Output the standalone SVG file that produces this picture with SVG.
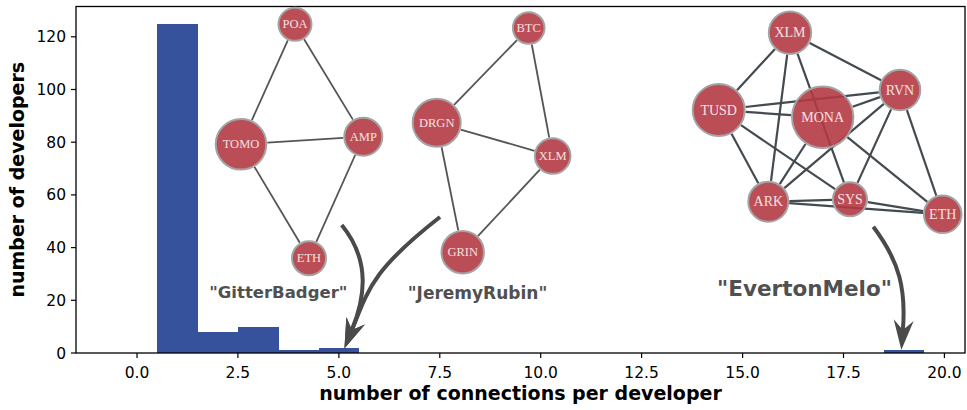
<svg xmlns="http://www.w3.org/2000/svg" width="967" height="410" viewBox="0 0 967 410">
<defs>
<style>
.tk{font-family:"DejaVu Sans",sans-serif;font-size:15.5px;fill:#000}
.ax{font-family:"DejaVu Sans",sans-serif;font-size:19px;font-weight:bold;fill:#000;text-anchor:middle}
.bar{fill:#37529c;shape-rendering:crispEdges}
.tm{stroke:#000;stroke-width:1.2}
.nd circle{fill:#b33a43;fill-opacity:0.9;stroke:#a4a4a4;stroke-width:2}
.nd text{font-family:"Liberation Serif",serif;fill:#f6e0e0;text-anchor:middle;dominant-baseline:central}
.s12 text{font-size:12.5px}
.s14 text{font-size:14px}
.e1 line{stroke:#555;stroke-width:1.8}
.e3 line{stroke:#434a50;stroke-width:2.2}
.nm{font-family:"DejaVu Sans",sans-serif;font-weight:bold;fill:#505050;text-anchor:middle}
.arr{fill:none;stroke:#4a4a4a;stroke-width:4}
</style>
<marker id="ah" markerUnits="userSpaceOnUse" markerWidth="40" markerHeight="30" viewBox="0 -15 40 30" refX="10" refY="0" orient="auto" overflow="visible">
<path d="M0,-10 L30,0 L0,10 L10,0 Z" fill="#4a4a4a"/>
</marker>
</defs>
<rect width="967" height="410" fill="#fff"/>
<g id="histogram">
<rect class="bar" x="157.2" y="23.6" width="40.9" height="329.4"/>
<rect class="bar" x="197.6" y="331.9" width="40.8" height="21.1"/>
<rect class="bar" x="237.9" y="326.6" width="40.9" height="26.4"/>
<rect class="bar" x="278.3" y="350.4" width="40.9" height="2.6"/>
<rect class="bar" x="318.7" y="347.7" width="40.3" height="5.3"/>
<rect class="bar" x="883.8" y="350.4" width="40.4" height="2.6"/>
</g>
<g id="axes">
<rect x="76" y="6.5" width="889" height="346.5" fill="none" stroke="#000" stroke-width="1.3"/>
<g class="tm">
<line x1="71" y1="353" x2="76" y2="353"/><line x1="71" y1="300.3" x2="76" y2="300.3"/><line x1="71" y1="247.6" x2="76" y2="247.6"/><line x1="71" y1="194.9" x2="76" y2="194.9"/><line x1="71" y1="142.2" x2="76" y2="142.2"/><line x1="71" y1="89.5" x2="76" y2="89.5"/><line x1="71" y1="36.8" x2="76" y2="36.8"/>
<line x1="137" y1="353" x2="137" y2="358"/><line x1="237.9" y1="353" x2="237.9" y2="358"/><line x1="338.9" y1="353" x2="338.9" y2="358"/><line x1="439.8" y1="353" x2="439.8" y2="358"/><line x1="540.7" y1="353" x2="540.7" y2="358"/><line x1="641.6" y1="353" x2="641.6" y2="358"/><line x1="742.6" y1="353" x2="742.6" y2="358"/><line x1="843.5" y1="353" x2="843.5" y2="358"/><line x1="944.4" y1="353" x2="944.4" y2="358"/>
</g>
<g class="tk" text-anchor="end">
<text x="66" y="358.5">0</text><text x="66" y="305.8">20</text><text x="66" y="253.1">40</text><text x="66" y="200.4">60</text><text x="66" y="147.7">80</text><text x="66" y="95">100</text><text x="66" y="42.3">120</text>
</g>
<g class="tk" text-anchor="middle">
<text x="137" y="377.5">0.0</text><text x="237.9" y="377.5">2.5</text><text x="338.9" y="377.5">5.0</text><text x="439.8" y="377.5">7.5</text><text x="540.7" y="377.5">10.0</text><text x="641.6" y="377.5">12.5</text><text x="742.6" y="377.5">15.0</text><text x="843.5" y="377.5">17.5</text><text x="944.4" y="377.5">20.0</text>
</g>
<text class="ax" x="520.5" y="400">number of connections per developer</text>
<text class="ax" transform="translate(24,179.7) rotate(-90)">number of developers</text>
</g>
<g id="connectors">
<g class="e1">
<line x1="287.8" y1="40.3" x2="251.8" y2="120.3"/>
<line x1="304.1" y1="39.3" x2="352.9" y2="119.6"/>
<line x1="267.3" y1="142.7" x2="343.3" y2="137.9"/>
<line x1="254.5" y1="166.9" x2="299.8" y2="242.8"/>
<line x1="355.2" y1="155" x2="316.3" y2="241.9"/>
<line x1="517" y1="40.1" x2="454.1" y2="104.8"/>
<line x1="531.8" y1="44.5" x2="549.2" y2="137.5"/>
<line x1="460.7" y1="129.6" x2="534.6" y2="150.8"/>
<line x1="441.6" y1="147.2" x2="458.3" y2="230.5"/>
<line x1="539.9" y1="169.7" x2="477.9" y2="236.1"/>
</g>
<g class="e3">
<line x1="775" y1="49" x2="737" y2="90.2"/>
<line x1="809.7" y1="43" x2="881.1" y2="80.2"/>
<line x1="787.2" y1="54.7" x2="771" y2="180.9"/>
<line x1="797.5" y1="53.6" x2="843.9" y2="182.4"/>
<line x1="745.5" y1="107" x2="878.8" y2="92.3"/>
<line x1="745.6" y1="111.9" x2="791.1" y2="115.1"/>
<line x1="731.5" y1="133.7" x2="758.3" y2="183.2"/>
<line x1="741" y1="125.2" x2="835.1" y2="189.2"/>
<line x1="852.6" y1="106.7" x2="879.9" y2="97.1"/>
<line x1="805.5" y1="144" x2="779.7" y2="184.1"/>
<line x1="847.4" y1="137.2" x2="927.3" y2="201.9"/>
<line x1="883.8" y1="103.8" x2="784.3" y2="188.1"/>
<line x1="891.1" y1="109.4" x2="857.5" y2="182.9"/>
<line x1="906.9" y1="110.2" x2="936.3" y2="195.6"/>
<line x1="789.3" y1="201.1" x2="832" y2="199.8"/>
<line x1="789.2" y1="203.2" x2="923" y2="212.9"/>
<line x1="867.8" y1="202.2" x2="923.2" y2="211.1"/>
</g>
</g>
<g id="net-gitterbadger" class="nd s12">
<g id="n1-poa"><circle cx="295" cy="24.3" r="16.5"/><text x="295" y="24.3">POA</text></g>
<g id="n1-tomo"><circle cx="241" cy="144.3" r="25.3"/><text x="241" y="144.3">TOMO</text></g>
<g id="n1-amp"><circle cx="363.3" cy="136.7" r="19"/><text x="363.3" y="136.7">AMP</text></g>
<g id="n1-eth"><circle cx="309" cy="258.3" r="17"/><text x="309" y="258.3">ETH</text></g>
</g>
<g id="net-jeremyrubin" class="nd s12">
<g id="n2-btc"><circle cx="528.7" cy="28" r="15.8"/><text x="528.7" y="28">BTC</text></g>
<g id="n2-drgn"><circle cx="436.7" cy="122.7" r="24"/><text x="436.7" y="122.7">DRGN</text></g>
<g id="n2-xlm"><circle cx="552.7" cy="156" r="17.8"/><text x="552.7" y="156">XLM</text></g>
<g id="n2-grin"><circle cx="462.7" cy="252.3" r="21.2"/><text x="462.7" y="252.3">GRIN</text></g>
</g>
<g id="net-evertonmelo" class="nd s14">
<g id="n3-xlm"><circle cx="790" cy="32.7" r="21.2"/><text x="790" y="32.7">XLM</text></g>
<g id="n3-tusd"><circle cx="718.7" cy="110" r="26"/><text x="718.7" y="110">TUSD</text></g>
<g id="n3-mona"><circle cx="822.7" cy="117.3" r="30.7"/><text x="822.7" y="117.3">MONA</text></g>
<g id="n3-rvn"><circle cx="900" cy="90" r="20.3"/><text x="900" y="90">RVN</text></g>
<g id="n3-ark"><circle cx="768.3" cy="201.7" r="20"/><text x="768.3" y="201.7">ARK</text></g>
<g id="n3-sys"><circle cx="850" cy="199.3" r="17"/><text x="850" y="199.3">SYS</text></g>
<g id="n3-eth"><circle cx="942.7" cy="214.3" r="18.8"/><text x="942.7" y="214.3">ETH</text></g>
</g>
<g id="labels">
<text class="nm" x="278.3" y="298.3" font-size="16.5">"GitterBadger"</text>
<text class="nm" x="477.5" y="299" font-size="17">"JeremyRubin"</text>
<text class="nm" x="804.5" y="295.7" font-size="21.5">"EvertonMelo"</text>
</g>
<g id="arrows">
<path class="arr" d="M341.7,225 C372,262 364,300 351.9,330" marker-end="url(#ah)"/>
<path class="arr" d="M440,217 C372,270 368,290 351.9,330" marker-end="url(#ah)"/>
<path class="arr" d="M873.3,226.7 C900,262 906,290 902.9,330.1" marker-end="url(#ah)"/>
</g>
</svg>
